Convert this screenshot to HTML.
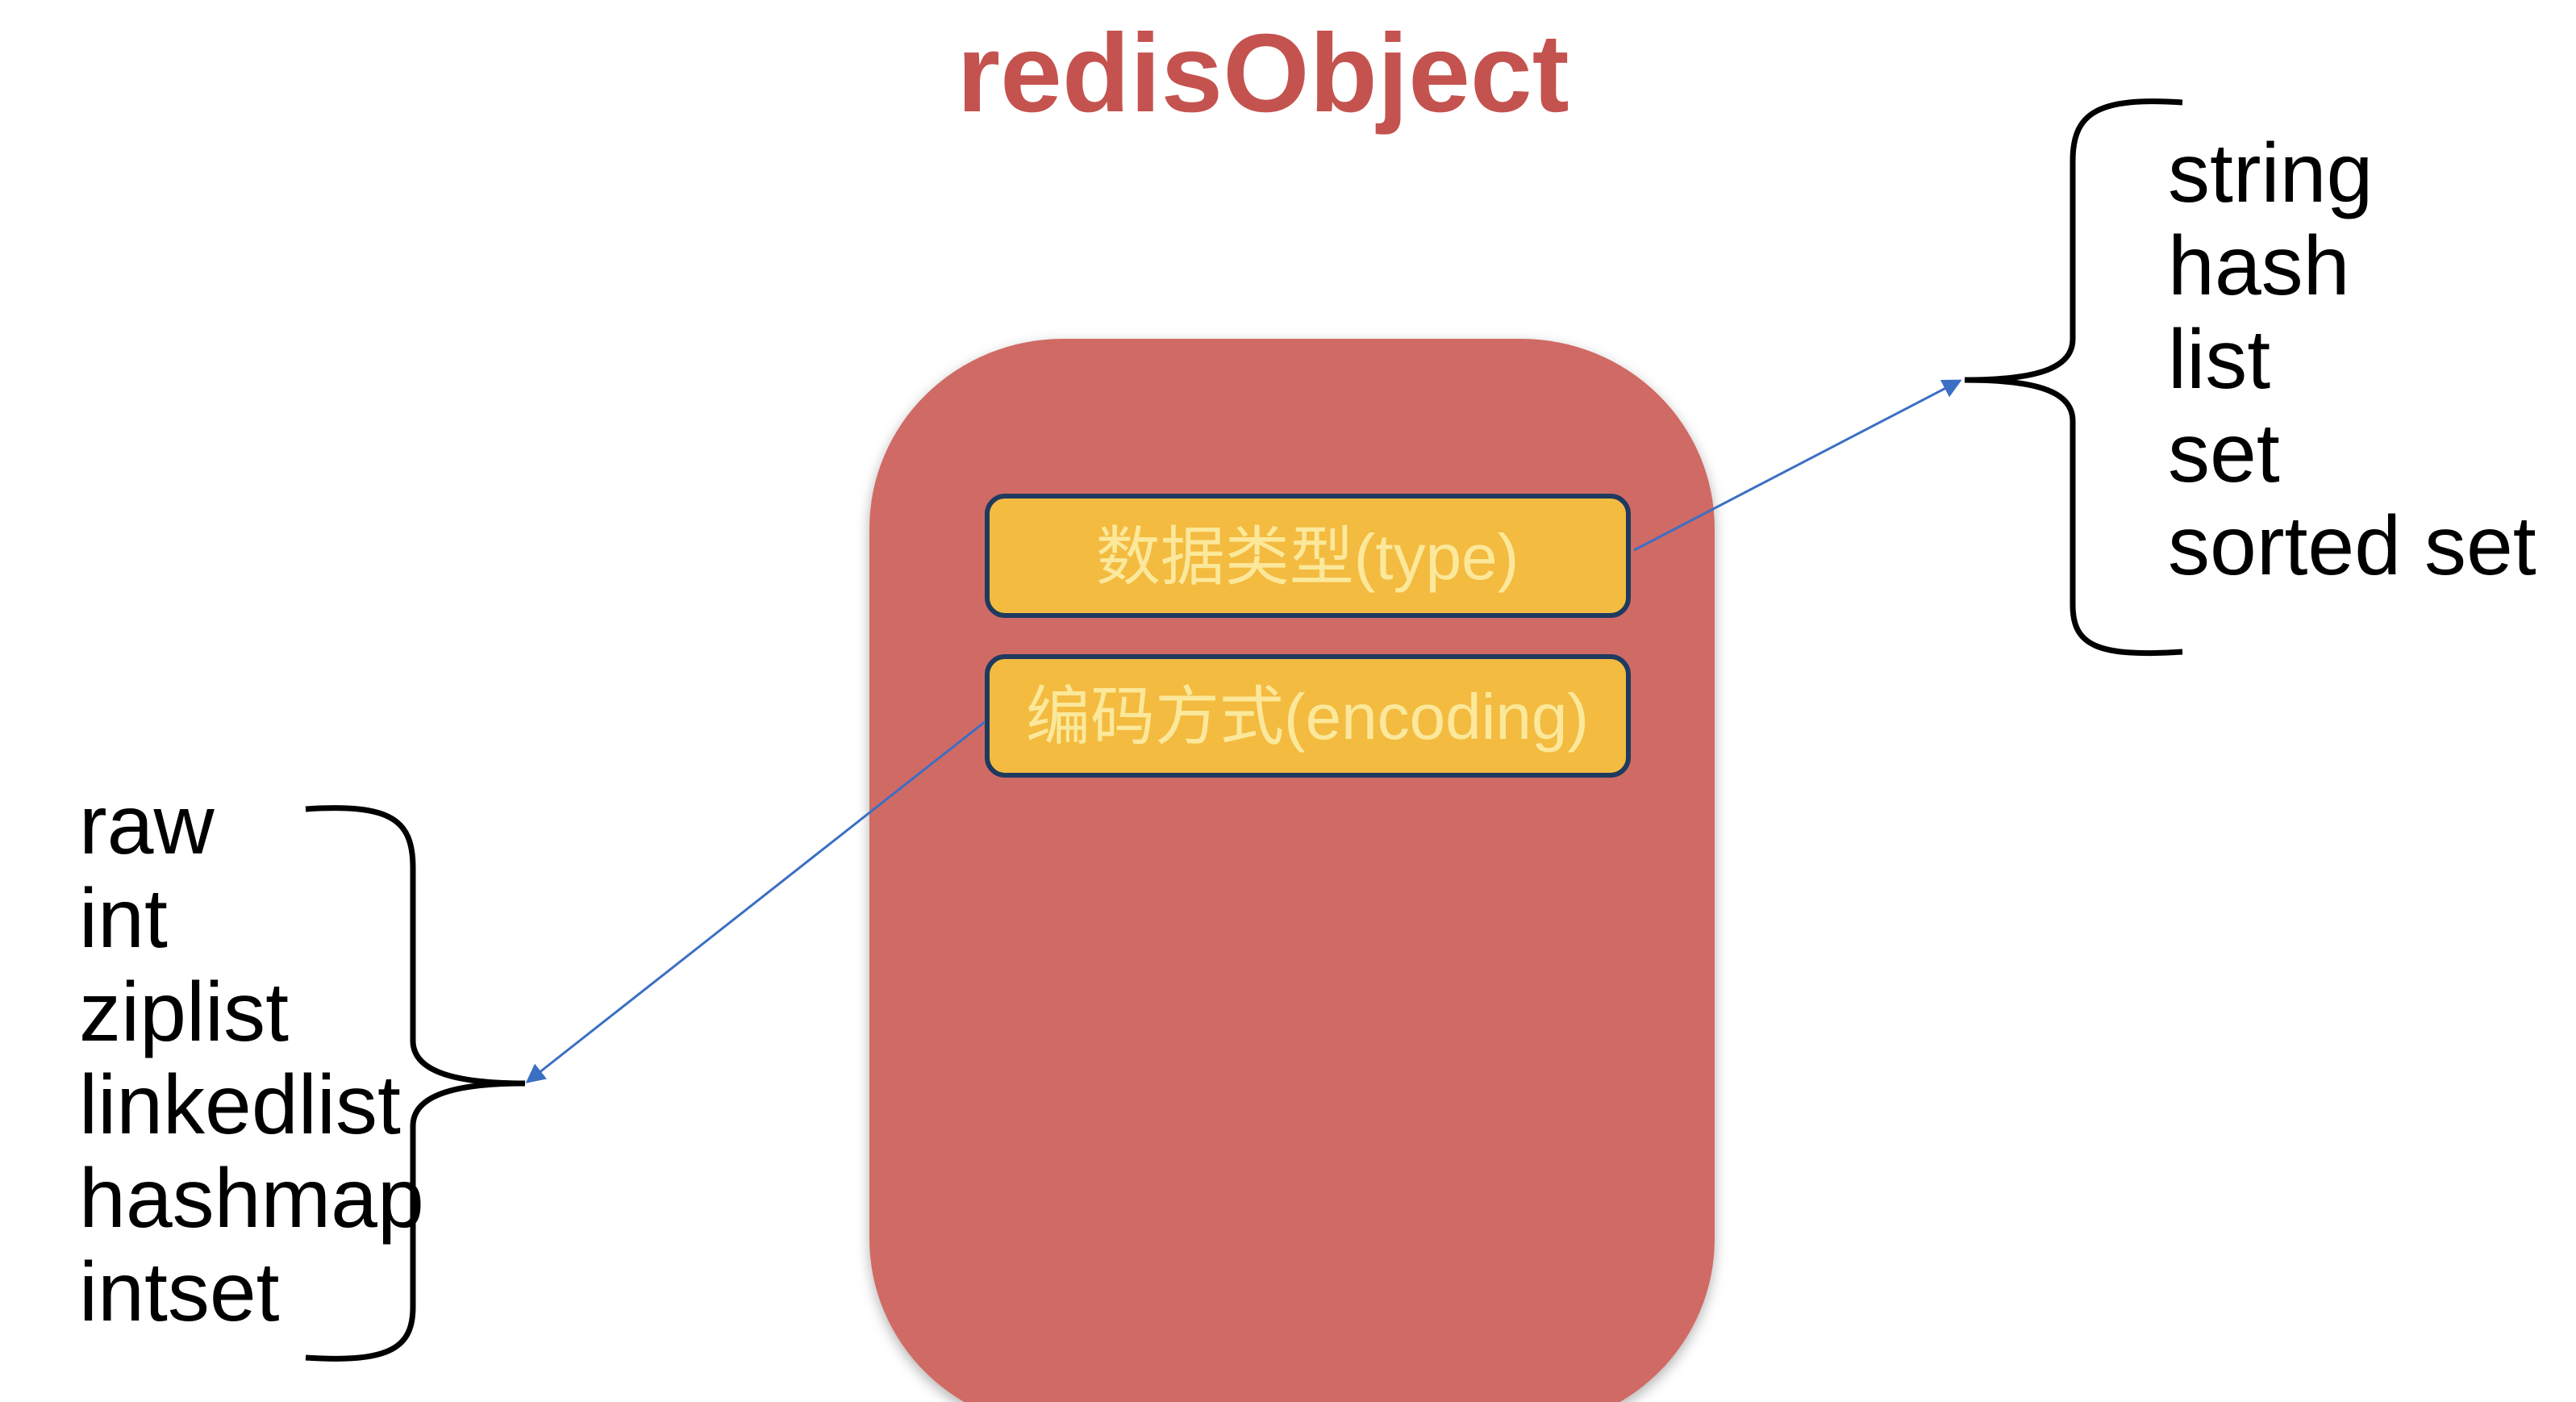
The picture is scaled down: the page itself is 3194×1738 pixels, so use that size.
<!DOCTYPE html>
<html><head><meta charset="utf-8"><style>
html,body{margin:0;padding:0;background:#fff;width:3194px;height:1738px;overflow:hidden}
svg{display:block}
.t{font-family:"Liberation Sans","Noto Sans CJK SC",sans-serif}
</style></head><body>
<svg width="3194" height="1738" viewBox="0 0 3194 1738" xmlns="http://www.w3.org/2000/svg">
<defs>
<filter id="sh" x="-10%" y="-10%" width="120%" height="120%"><feDropShadow dx="0" dy="6" stdDeviation="8" flood-color="#000" flood-opacity="0.3"/></filter>
<marker id="ah" markerWidth="8" markerHeight="8" refX="7" refY="4" orient="auto" markerUnits="strokeWidth"><path d="M0,0 L8,4 L0,8 z" fill="#3a6fc4"/></marker>
<clipPath id="cp"><rect x="0" y="0" width="3194" height="1738"/></clipPath>
</defs>
<text class="t" x="1566" y="138" text-anchor="middle" font-size="138" font-weight="bold" fill="#c4524f">redisObject</text>
<g clip-path="url(#cp)">
<rect x="1078" y="420" width="1048" height="1351" rx="240" ry="235" fill="#d06b65" filter="url(#sh)"/>
</g>
<rect x="1224" y="615" width="795" height="148" rx="22" fill="#f3bc41" stroke="#1f3a5f" stroke-width="6"/>
<text class="t" x="1621" y="718" text-anchor="middle" font-size="80" fill="#fbe89a">数据类型(type)</text>
<rect x="1224" y="814" width="795" height="147" rx="22" fill="#f3bc41" stroke="#1f3a5f" stroke-width="6"/>
<text class="t" x="1621" y="916" text-anchor="middle" font-size="80" fill="#fbe89a">编码方式(encoding)</text>
<path d="M2706,127 C2600,120 2570,140 2570,200 L2570,420 C2570,455 2530,471 2436,471 C2530,471 2570,487 2570,522 L2570,750 C2570,800 2600,815 2706,808" fill="none" stroke="#000" stroke-width="7"/>
<path d="M379,1003 C485,996 512,1016 512,1076 L512,1290 C512,1325 555,1343 651,1343 C555,1343 512,1361 512,1396 L512,1620 C512,1670 485,1690 379,1683" fill="none" stroke="#000" stroke-width="7"/>
<line x1="2026" y1="682" x2="2430" y2="472" stroke="#3a6fc4" stroke-width="3" marker-end="url(#ah)"/>
<line x1="1221" y1="895" x2="654" y2="1341" stroke="#3a6fc4" stroke-width="3" marker-end="url(#ah)"/>
<g class="t" font-size="104" fill="#000">
<text x="2688" y="250">string</text>
<text x="2688" y="365">hash</text>
<text x="2688" y="481">list</text>
<text x="2688" y="597">set</text>
<text x="2688" y="712">sorted set</text>
<text x="98" y="1058">raw</text>
<text x="98" y="1174">int</text>
<text x="98" y="1290">ziplist</text>
<text x="98" y="1405">linkedlist</text>
<text x="98" y="1521">hashmap</text>
<text x="98" y="1637">intset</text>
</g>
</svg>
</body></html>
